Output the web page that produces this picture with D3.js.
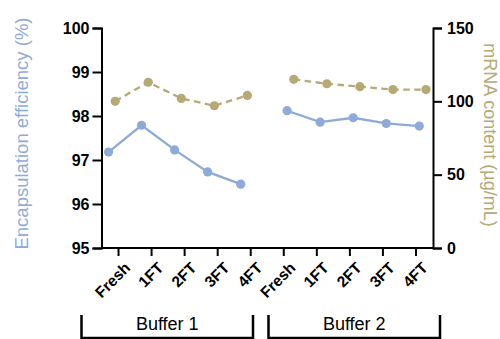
<!DOCTYPE html>
<html><head><meta charset="utf-8">
<script src="https://cdn.jsdelivr.net/npm/d3@7"></script>
<style>body{margin:0;background:#fff}svg{display:block}</style>
</head><body>
<svg id="c" width="500" height="339"></svg>
<script>
const conditions = ["Fresh","1FT","2FT","3FT","4FT"];
const buffers = ["Buffer 1","Buffer 2"];
const eeBuffer1 = [97.18, 97.79, 97.23, 96.73, 96.45];
const eeBuffer2 = [98.12, 97.86, 97.96, 97.83, 97.77];
const mrnaBuffer1 = [100, 113, 102, 97, 104];
const mrnaBuffer2 = [115, 112, 110, 108, 108];
const leftTicks = [95,96,97,98,99,100];
const rightTicks = [0,50,100,150];

const blue = "#8eabd8", gold = "#b6a976";
const svg = d3.select("#c");
const L = 101.5, R = 433, T = 28, B = 248;
const cats = [];
buffers.forEach((b,bi)=>conditions.forEach(c=>cats.push(bi+"|"+c)));
const x = d3.scaleBand().domain(cats).range([L+0.5, R-0.5]).padding(0);
const dodge = d3.scalePoint().domain(["b1ee","b1mr","b2ee","b2mr"]).range([-10,10]);
const yL = d3.scaleLinear().domain([95,100]).range([B,T]);
const yR = d3.scaleLinear().domain([0,150]).range([B,T]);
const font = "'Liberation Sans', Arial, sans-serif";

// axes
const gl = svg.append("g").attr("transform",`translate(${L},0)`)
  .call(d3.axisLeft(yL).tickValues(leftTicks).tickSize(9).tickPadding(3).tickFormat(d3.format("d")));
const gr = svg.append("g").attr("transform",`translate(${R},0)`)
  .call(d3.axisRight(yR).tickValues(rightTicks).tickSize(9).tickPadding(5));
const gx = svg.append("g").attr("transform",`translate(0,${B})`)
  .call(d3.axisBottom(x).tickSize(8).tickFormat(d=>d.split("|")[1]));
[gl,gr,gx].forEach(g=>{
  g.select(".domain").attr("stroke","#000").attr("stroke-width",2);
  g.selectAll(".tick line").attr("stroke","#000").attr("stroke-width",2);
  g.selectAll("text").attr("font-family",font).attr("font-weight","bold").attr("font-size",16).attr("fill","#000");
});
gx.select(".domain").attr("d",`M${L},0H${R}`);
gx.selectAll(".tick text").attr("font-size",15.5).attr("text-anchor","end")
  .attr("dy",0).attr("transform","translate(5,13) rotate(-45)");

// series
function drawSeries(vals, bi, key, yScale, color, dashed){
  const pts = conditions.map((c,i)=>[x(bi+"|"+c)+x.bandwidth()/2+dodge(key), yScale(vals[i])]);
  svg.append("path").attr("d",d3.line()(pts)).attr("fill","none").attr("stroke",color)
    .attr("stroke-width",2.3).attr("stroke-dasharray",dashed?"6.5,4.5":null);
  svg.selectAll(null).data(pts).enter().append("circle")
    .attr("cx",d=>d[0]).attr("cy",d=>d[1]).attr("r",4.6).attr("fill",color);
}
drawSeries(mrnaBuffer1,0,"b1mr",yR,gold,true);
drawSeries(mrnaBuffer2,1,"b2mr",yR,gold,true);
drawSeries(eeBuffer1,0,"b1ee",yL,blue,false);
drawSeries(eeBuffer2,1,"b2ee",yL,blue,false);

// axis titles
svg.append("text").attr("transform","translate(28,133.5) rotate(-90)").attr("text-anchor","middle")
  .attr("font-family",font).attr("font-size",18.5).attr("fill",blue).text("Encapsulation efficiency (%)");
svg.append("text").attr("transform","translate(484,135) rotate(90)").attr("text-anchor","middle")
  .attr("font-family",font).attr("font-size",18).attr("fill",gold).text("mRNA content (µg/mL)");

// group brackets
const brackets = [[81.5,253],[268.5,440]];
buffers.forEach((b,i)=>{
  const [a,e] = brackets[i];
  svg.append("path").attr("d",`M${a},315V338H${e}V315`).attr("fill","none").attr("stroke","#000").attr("stroke-width",2.5);
  svg.append("text").attr("x",(a+e)/2).attr("y",330).attr("text-anchor","middle")
    .attr("font-family",font).attr("font-size",18).attr("fill","#000").text(b);
});
</script>
</body></html>
